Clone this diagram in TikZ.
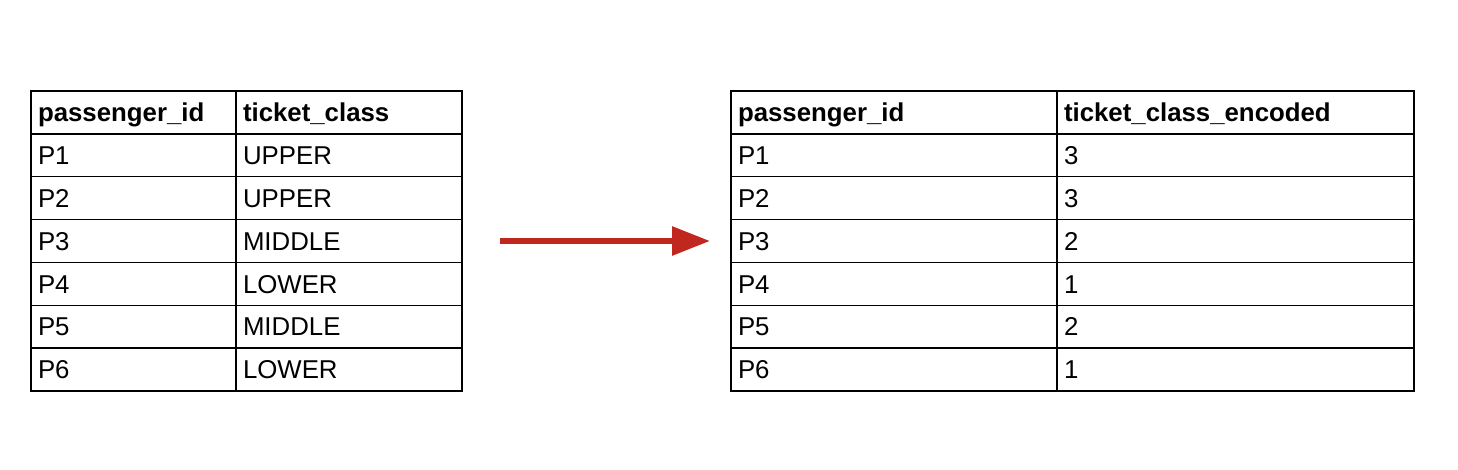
\documentclass[tikz,border=0pt]{standalone}
\usepackage{fontspec}
\setmainfont{Liberation Sans}
\usepackage{xcolor}
\usetikzlibrary{positioning,calc}
\usetikzlibrary{arrows.meta}
\definecolor{arrowred}{RGB}{192,40,31}
\tikzset{cell/.style={rectangle,draw,line width=1.5pt,outer sep=0pt,anchor=north west,
  minimum height=42.86pt,inner xsep=7pt,text height=18.5pt,text depth=0pt,align=left,
  font=\fontsize{25.8}{30}\selectfont}}
\tikzset{flow/.style={arrowred,line width=6pt,-{Triangle[length=38pt,width=28pt]}}}

\begin{document}
\begin{tikzpicture}[x=1pt,y=-1pt]
    \useasboundingbox (0,0) rectangle (1458,470);
    % left table
    \node[cell,text width=191pt] (lh1) at (31,91) {\bfseries passenger\_id};
    \node[cell,text width=212pt] (lh2) at (236,91) {\bfseries ticket\_class};
    \foreach \i/\cls in {1/UPPER,2/UPPER,3/MIDDLE,4/LOWER,5/MIDDLE,6/LOWER} {
        \node[cell,text width=191pt] (l\i a) at (31,{91+42.86*\i}) {P\i};
        \node[cell,text width=212pt] (l\i b) at (236,{91+42.86*\i}) {\cls};
    }
    % right table
    \node[cell,text width=312pt] (rh1) at (731,91) {\bfseries passenger\_id};
    \node[cell,text width=343pt] (rh2) at (1057,91) {\bfseries ticket\_class\_encoded};
    \foreach \i/\code in {1/3,2/3,3/2,4/1,5/2,6/1} {
        \node[cell,text width=312pt] (r\i a) at (731,{91+42.86*\i}) {P\i};
        \node[cell,text width=343pt] (r\i b) at (1057,{91+42.86*\i}) {\code};
    }
    % arrow
    \coordinate (arrS) at (500,241);
    \coordinate (arrE) at (710,241);
    \draw[flow] (arrS) -- (arrE);
\end{tikzpicture}
\end{document}
